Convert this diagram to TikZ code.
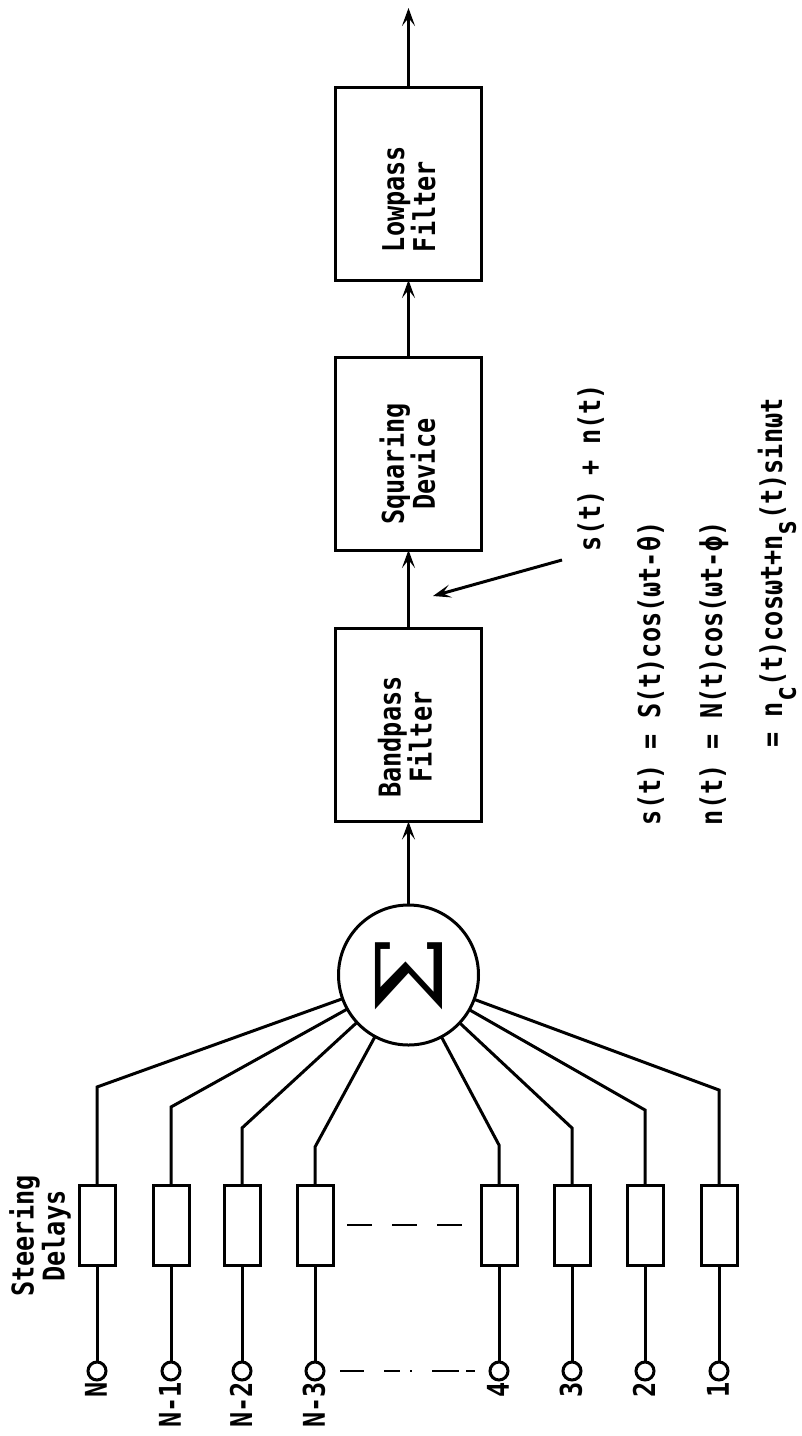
\documentclass[tikz,border=0pt]{standalone}
\usepackage{fontspec}
\newfontfamily\lett[FakeStretch=0.84]{DejaVu Sans Mono}
\newfontfamily\sigfont{DejaVu Serif}
\usetikzlibrary{arrows.meta}
\newcommand{\lsub}[1]{\raisebox{-0.46em}{#1}}
\begin{document}
\begin{tikzpicture}[x=1pt,y=-1pt,
  line width=3pt,
  every node/.style={inner sep=0pt, outer sep=0pt},
  txt/.style={font=\lett\bfseries\fontsize{30}{31}\selectfont, rotate=90},
  fbox/.style={draw, minimum width=146pt, minimum height=193pt},
  dbox/.style={draw, minimum width=36pt, minimum height=80pt},
  term/.style={draw, circle, minimum size=18pt},
  arr/.style={-{Stealth[length=18pt,width=13pt,inset=8pt]}},
  dashA/.style={line width=2.6pt, dash pattern=on 25pt off 20pt},
  dashB/.style={line width=2.6pt, dash pattern=on 24pt off 20pt on 16pt off 10pt on 2pt off 20pt on 27pt off 7pt on 13pt}
]
\useasboundingbox (0,0) rectangle (802,1436);

% filter chain
\node[fbox] (lp) at (408.5,183.5) {};
\node[fbox] (sq) at (408.5,453.5) {};
\node[fbox] (bp) at (408.5,725) {};
\node[txt, align=left] (lpt) at (409,199) {Lowpass\\Filter};
\node[txt, align=center] (sqt) at (407.5,464) {Squaring\\Device};
\node[txt, align=center] (bpt) at (405,737) {Bandpass\\Filter};

% summer
\node[draw, circle, minimum size=140pt] (sum) at (408.5,975) {};
\node[rotate=90, font=\sigfont\fontsize{92}{92}\selectfont] (sig) at (409,975) {\scalebox{1.22}[1]{Σ}};

\draw[arr] (sum) -- (bp);
\draw[arr] (bp) -- (sq);
\draw[arr] (sq) -- (lp);
\coordinate (out) at (408.5,8);
\draw[arr] (lp) -- (out);

% channels
\foreach \n/\x/\b/\l in {a/97/1087/N, b/171/1107/N-1, c/242/1128/N-2, d/315/1147/N-3,
                         e/499/1145/4, f/572/1128/3, g/645/1110/2, h/719/1090/1}{
  \node[term] (t\n) at (\x,1371) {};
  \node[dbox] (d\n) at (\x,1225) {};
  \coordinate (k\n) at (\x,\b);
  \draw (t\n) -- (d\n);
  \draw (d\n) -- (k\n) -- (sum);
  \node[txt, anchor=east] (l\n) at ({\x-1},1382) {\l};
}
\draw[dashA, shorten <=14pt, shorten >=12pt] (dd) -- (de);
\draw[dashB, shorten <=16pt, shorten >=15pt] (td) -- (te);

\node[txt, align=center] (sd) at (40,1236) {Steering\\Delays};

% annotation
\coordinate (atail) at (562,560);
\coordinate (atip) at (433,596);
\draw[arr] (atail) -- (atip);
\node[txt, anchor=base west] (sn) at (600,551) {s(t) + n(t)};

% equations
\node[txt, anchor=base west] (e1) at (660,825) {s(t) = S(t)cos(ωt-θ)};
\node[txt, anchor=base west] (e2) at (722,825) {n(t) = N(t)cos(ωt-ϕ)};
\node[txt, anchor=base west] (e3) at (782,747.4) {= n\lsub{c}(t)cosωt+n\lsub{s}(t)sinωt};
\end{tikzpicture}
\end{document}
